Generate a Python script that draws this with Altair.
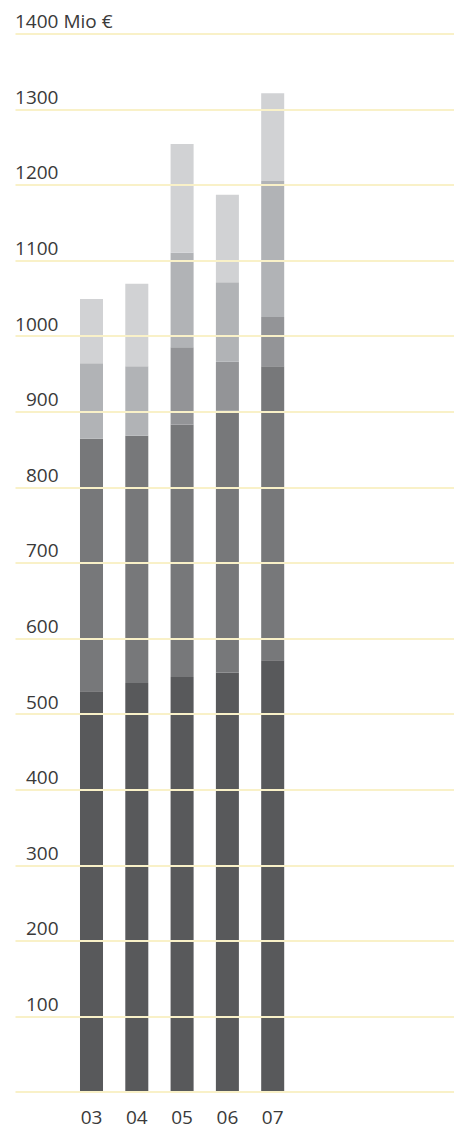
import altair as alt
import pandas as pd

years = ["03", "04", "05", "06", "07"]
seg_a = [530, 541, 549, 555, 571]
seg_b = [334, 327, 334, 346, 389]
seg_c = [0, 0, 102, 65, 65]
seg_d = [100, 92, 125, 105, 180]
seg_e = [85, 109, 144, 116, 116]
segments = ["A", "B", "C", "D", "E"]
seg_colors = ["#58595b", "#77787a", "#939497", "#b1b3b6", "#d1d2d4"]
y_ticks = list(range(0, 1500, 100))

# empty slots around the five years (nothing is drawn for them)
x_domain = ["_a"] + years + ["_b", "_c", "_d"]

rows = []
for i, y in enumerate(years):
    for k, (s, vals) in enumerate(zip(segments, [seg_a, seg_b, seg_c, seg_d, seg_e])):
        rows.append({"year": y, "segment": s, "order": k, "value": vals[i]})
df = pd.DataFrame(rows)

FONT = "Open Sans"

bars = alt.Chart(df).mark_bar(strokeWidth=0).encode(
    x=alt.X("year:N",
            scale=alt.Scale(domain=x_domain, paddingInner=0.492,
                            paddingOuter=0.5915, align=0.3675),
            axis=alt.Axis(title=None, domain=False, ticks=False, tickSize=0,
                          labelPadding=16, labelFontSize=19, labelFont=FONT,
                          labelColor="#3a3a3a", labelAngle=0, grid=False,
                          labelExpr="substring(datum.label, 0, 1) == '_' ? '' : datum.label")),
    y=alt.Y("value:Q", stack="zero",
            scale=alt.Scale(domain=[0, 1400], nice=False),
            axis=alt.Axis(title=None, values=y_ticks, format="d", domain=False,
                          ticks=False, tickSize=0, labelPadding=-43,
                          labelAlign="right", labelBaseline="alphabetic",
                          labelOffset=-6, labelFlush=False, labelOverlap=False,
                          labelFontSize=19, labelFont=FONT, labelColor="#3a3a3a",
                          labelExpr="datum.value == 0 || datum.value == 1400 ? '' : datum.label",
                          grid=True, gridColor="#f9f1c8", gridWidth=2, zindex=1)),
    color=alt.Color("segment:N", scale=alt.Scale(domain=segments, range=seg_colors),
                    legend=None),
    order=alt.Order("order:Q", sort="ascending"),
)

unit_label = alt.Chart(pd.DataFrame({"t": ["1400 Mio €"]})).mark_text(
    align="left", baseline="alphabetic", dy=-6, fontSize=19, font=FONT,
    color="#3a3a3a"
).encode(x=alt.value(0), y=alt.datum(1400), text="t:N")

chart = alt.layer(bars, unit_label).properties(
    width=439, height=1058.4,
    autosize=alt.AutoSizeParams(type="none"),
    padding={"left": 7, "top": 25.6, "right": 0, "bottom": 36},
).configure_view(stroke=None)

chart.save("out.html", embed_options={"renderer": "svg", "actions": False})
